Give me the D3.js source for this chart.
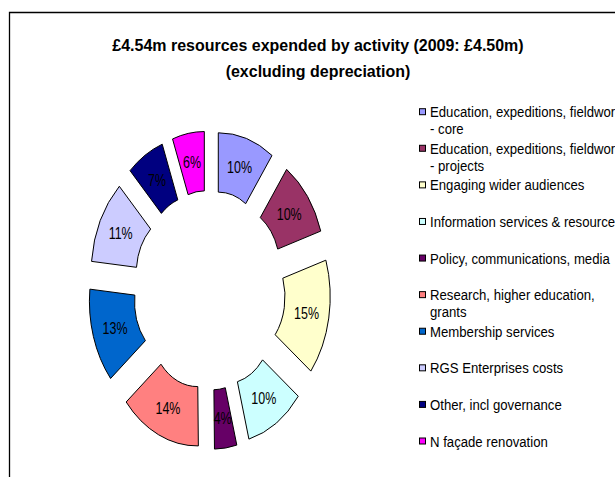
<!DOCTYPE html>
<html><head><meta charset="utf-8">
<script src="https://cdn.jsdelivr.net/npm/d3@7"></script>
<style>html,body{margin:0;padding:0;background:#fff;overflow:hidden}</style>
</head><body>
<svg id="chart" width="615" height="477"></svg>
<script>
const titleLines = ["£4.54m resources expended by activity (2009: £4.50m)", "(excluding depreciation)"];
const categories = [
  "Education, expeditions, fieldwork - core",
  "Education, expeditions, fieldwork - projects",
  "Engaging wider audiences",
  "Information services & resources",
  "Policy, communications, media",
  "Research, higher education, grants",
  "Membership services",
  "RGS Enterprises costs",
  "Other, incl governance",
  "N façade renovation"
];
const legendLines = [
  ["Education, expeditions, fieldwork", "- core"],
  ["Education, expeditions, fieldwork", "- projects"],
  ["Engaging wider audiences"],
  ["Information services & resources"],
  ["Policy, communications, media"],
  ["Research, higher education,", "grants"],
  ["Membership services"],
  ["RGS Enterprises costs"],
  ["Other, incl governance"],
  ["N façade renovation"]
];
const values = [9.9, 10.2, 15.4, 10.4, 3.9, 14.2, 12.6, 11.2, 6.6, 5.6];
const colors = ["#9999FF", "#993366", "#FFFFCC", "#CCFFFF", "#660066", "#FF8080", "#0066CC", "#CCCCFF", "#000080", "#FF00FF"];

const svg = d3.select("#chart");
const font = "'Liberation Sans', Arial, sans-serif";

// border
svg.append("path").attr("d", "M9.5,477V12.5H615")
  .attr("fill", "none").attr("stroke", "#000").attr("stroke-width", 1.3);

// title
svg.append("g").selectAll("text").data(titleLines).join("text")
  .attr("transform", (d, i) => `translate(318,${51 + i * 25.5}) scale(0.93,1)`)
  .attr("text-anchor", "middle")
  .attr("font-family", font).attr("font-weight", "bold").attr("font-size", 17.2)
  .attr("fill", "#000").text(d => d);

// doughnut
const cx = 209.4, cy = 290.2, sx = 0.922, sy = 1.211;
const R = 100, r = 51, explode = 31.5, labelR = 107;
const color = d3.scaleOrdinal().domain(categories).range(colors);
const pie = d3.pie().sort(null).value(d => d.v);
const arcs = pie(categories.map((c, i) => ({c, v: values[i]})));
const arc = d3.arc().innerRadius(r).outerRadius(R);
const total = d3.sum(values);

const g = svg.append("g").attr("transform", `translate(${cx},${cy}) scale(${sx},${sy})`);
g.selectAll("path").data(arcs).join("path")
  .attr("d", arc)
  .attr("transform", d => {
    const m = (d.startAngle + d.endAngle) / 2;
    return `translate(${explode * Math.sin(m)},${-explode * Math.cos(m)})`;
  })
  .attr("fill", d => color(d.data.c))
  .attr("stroke", "#000").attr("stroke-width", 1)
  .attr("vector-effect", "non-scaling-stroke");

svg.append("g").selectAll("text").data(arcs).join("text")
  .attr("transform", d => {
    const m = (d.startAngle + d.endAngle) / 2;
    const x = cx + sx * labelR * Math.sin(m);
    const y = cy - sy * labelR * Math.cos(m);
    return `translate(${x},${y}) scale(0.78,1)`;
  })
  .attr("text-anchor", "middle").attr("dy", "0.36em")
  .attr("font-family", font).attr("font-size", 16).attr("fill", "#000")
  .text(d => Math.round(d.value / total * 100) + "%");

// legend
const legY = d3.scalePoint().domain(categories).range([111.7, 441]);
const leg = svg.append("g").selectAll("g").data(categories).join("g")
  .attr("transform", d => `translate(0,${legY(d)})`);
leg.append("rect").attr("x", 419.5).attr("y", -3).attr("width", 6).attr("height", 6)
  .attr("fill", d => color(d)).attr("stroke", "#000").attr("stroke-width", 1);
leg.each(function(d, i) {
  const sel = d3.select(this);
  legendLines[i].forEach((line, j) => {
    sel.append("text")
      .attr("transform", `translate(430,${5.5 + j * 17}) scale(0.85,1)`)
      .attr("font-family", font).attr("font-size", 15.5).attr("fill", "#000")
      .text(line);
  });
});
</script>
</body></html>
